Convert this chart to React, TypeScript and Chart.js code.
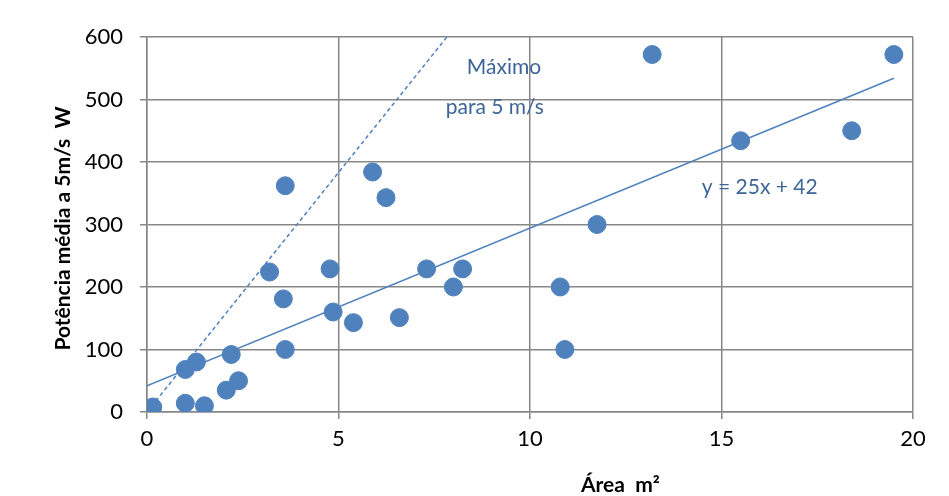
import React, { useEffect, useRef } from "react";
import { Chart, registerables } from "chart.js";

Chart.register(...registerables);

// Scatter data: area (m²) vs mean power at 5 m/s (W)
const areaValues = [0.05, 0.15, 1.0, 1.29, 1.0, 1.5, 2.07, 2.39, 2.2, 3.2, 3.56, 3.61, 3.61, 4.78, 4.86, 5.39, 5.89, 6.24, 6.59, 7.3, 8.0, 8.24, 10.79, 10.91, 11.75, 13.19, 15.5, 18.4, 19.5];
const powerValues = [3, 8, 68, 80, 14, 10, 35, 50, 92, 224, 181, 100, 362, 229, 160, 143, 384, 343, 151, 229, 200, 229, 200, 100, 300, 572, 434, 450, 572];

// Trend line y = 25x + 42 (endpoints)
const trendX = [0, 19.5];
const trendY = [42, 534];

// "Máximo para 5 m/s" line (endpoints)
const maxX = [0, 7.83];
const maxY = [0, 600];

const xTicks = [0, 5, 10, 15, 20];
const yTicks = [0, 100, 200, 300, 400, 500, 600];

const yTitle = "Potência média a 5m/s  W";
const xTitle = "Área  m²";
const noteMax1 = "Máximo";
const noteMax2 = "para 5 m/s";
const noteTrend = "y = 25x + 42";

const FONT = "Lato, 'Open Sans', sans-serif";
const BLUE = "#4F81BD";
const NOTE = "#3D6597";
const GRID = "#878787";

export default function App() {
  const ref = useRef<HTMLCanvasElement | null>(null);

  useEffect(() => {
    if (!ref.current) return;
    const textPlugin = {
      id: "texts",
      afterDraw(chart: any) {
        const ctx = chart.ctx;
        const xs = chart.scales.x;
        const ys = chart.scales.y;
        const area = chart.chartArea;
        ctx.save();
        // notes
        ctx.fillStyle = NOTE;
        ctx.font = `21px ${FONT}`;
        ctx.textAlign = "center";
        ctx.textBaseline = "middle";
        ctx.fillText(noteMax1, xs.getPixelForValue(9.32), ys.getPixelForValue(552));
        ctx.fillText(noteMax2, xs.getPixelForValue(9.08), ys.getPixelForValue(488));
        ctx.fillText(noteTrend, xs.getPixelForValue(16.0), ys.getPixelForValue(359));
        // axis titles
        ctx.fillStyle = "#000";
        ctx.font = `bold 21px ${FONT}`;
        ctx.fillText(xTitle, area.left + (area.right - area.left) * 0.618, 485);
        ctx.translate(63, (area.top + area.bottom) / 2 + 4);
        ctx.rotate(-Math.PI / 2);
        ctx.fillText(yTitle, 0, 0);
        ctx.restore();
      },
    };

    const chart = new Chart(ref.current, {
      type: "scatter",
      data: {
        datasets: [
          {
            label: "data",
            data: areaValues.map((x, i) => ({ x, y: powerValues[i] })),
            backgroundColor: BLUE,
            borderColor: BLUE,
            pointRadius: 9,
            pointHoverRadius: 9,
            order: 0,
          },
          {
            label: "trend",
            data: trendX.map((x, i) => ({ x, y: trendY[i] })),
            showLine: true,
            borderColor: BLUE,
            borderWidth: 1.5,
            pointRadius: 0,
            order: 1,
          },
          {
            label: "max",
            data: maxX.map((x, i) => ({ x, y: maxY[i] })),
            showLine: true,
            borderColor: BLUE,
            borderWidth: 1.5,
            borderDash: [4, 3],
            pointRadius: 0,
            order: 2,
          },
        ],
      },
      options: {
        animation: false,
        responsive: true,
        maintainAspectRatio: false,
        layout: { padding: { top: 37, right: 36, left: 0, bottom: 0 } },
        plugins: { legend: { display: false }, tooltip: { enabled: false } },
        scales: {
          x: {
            type: "linear",
            min: 0,
            max: 20,
            afterFit: (s: any) => { s.height = 84; },
            afterBuildTicks: (s: any) => { s.ticks = xTicks.map((v) => ({ value: v })); },
            ticks: { color: "#000", font: { family: FONT, size: 22 }, padding: 7 },
            grid: { color: GRID, lineWidth: 1.5, tickLength: 7, tickColor: GRID },
            border: { display: true, color: GRID, width: 1.5 },
          },
          y: {
            type: "linear",
            min: 0,
            max: 600,
            afterFit: (s: any) => { s.width = 147; },
            afterBuildTicks: (s: any) => { s.ticks = yTicks.map((v) => ({ value: v })); },
            ticks: { color: "#000", font: { family: FONT, size: 22 }, padding: 17 },
            grid: { color: GRID, lineWidth: 1.5, tickLength: 7, tickColor: GRID },
            border: { display: true, color: GRID, width: 1.5 },
          },
        },
      },
      plugins: [textPlugin],
    });
    return () => chart.destroy();
  }, []);

  return (
    <div style={{ position: "fixed", left: 0, top: 0, width: 949, height: 496, background: "#fff" }}>
      <canvas ref={ref} />
    </div>
  );
}
